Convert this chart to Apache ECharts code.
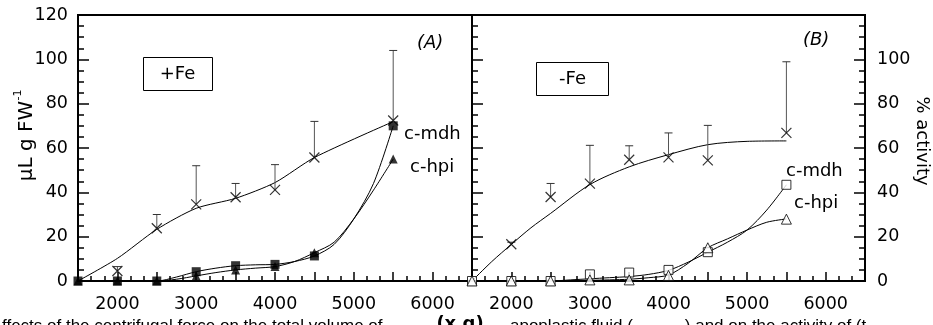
<!DOCTYPE html>
<html>
<head>
<meta charset="utf-8">
<script src="https://cdn.jsdelivr.net/npm/echarts@6/dist/echarts.min.js"></script>
<style>
  html, body { margin: 0; padding: 0; background: #fff; }
  #chart { width: 933px; height: 325px; }
</style>
</head>
<body>
<div id="chart"></div>
<script>
// x positions (x g)
const volX = [2000, 2500, 3000, 3500, 4000, 4500, 5500];
const enzX = [1500, 2000, 2500, 3000, 3500, 4000, 4500, 5500];
const curveX = [1500, 2000, 2500, 2750, 3000, 3250, 3500, 3750, 4000, 4250, 4500, 4750, 5000, 5250, 5500];
const xTickLabels = [2000, 3000, 4000, 5000, 6000];

// (A) +Fe
const volA = [4.5, 23.8, 34.6, 37.8, 41.1, 55.7, 72.4];
const volErrTopA = [6.5, 30, 52, 44, 52.5, 72, 104];
const volFitXA = [1500, 2000, 2500, 3000, 3500, 4000, 4500, 5500];
const volFitA = [0, 10.2, 23.3, 32.8, 37.3, 44.4, 55.7, 71.9];
const mdhA = [0, 0, 0, 4.2, 6.9, 7.5, 11.3, 70];
const hpiA = [0, 0, 0, 2.3, 5, 6.5, 12.8, 55];
const mdhCurveA = [0, 0, 0, 1.8, 4.2, 5.8, 6.9, 7.3, 7.5, 8.8, 11.3, 16.5, 28, 44, 70];
const hpiCurveA = [0, 0, 0, 0.8, 2.3, 3.8, 5, 5.8, 6.5, 8.8, 12.8, 17.5, 28, 41, 55];

// (B) -Fe
const volB = [16.6, 37.9, 43.9, 54.7, 55.8, 54.4, 66.8];
const volErrTopB = [17.5, 44, 61.2, 61, 66.8, 70.2, 98.9];
const volFitXB = [1500, 1750, 2000, 2250, 2500, 3000, 3500, 4000, 4500, 5000, 5500];
const volFitB = [0, 8.7, 16.5, 24, 30.5, 43.5, 51.5, 57, 61.5, 63, 63.2];
const mdhB = [0, 0, 0, 3, 3.8, 5, 13, 43.4];
const hpiB = [0, 0, 0, 0.5, 0.5, 2.5, 15, 27.9];
const mdhCurveB = [0, 0, 0, 0.5, 1, 1.5, 2, 3, 4.8, 8.5, 13, 17.5, 23, 32, 43.4];
const hpiCurveB = [0, 0, 0, 0.1, 0.3, 0.5, 0.8, 1.5, 2.7, 8, 15, 19, 23, 26.5, 28];

const FONT = 'DejaVu Sans';
const zip = (xs, ys) => xs.map((x, i) => [x, ys[i]]);
const zip3 = (xs, ys, zs) => xs.map((x, i) => [x, ys[i], zs[i]]);

const chart = echarts.init(document.getElementById('chart'));

function xAxisFor(gridIndex) {
  return {
    gridIndex: gridIndex,
    type: 'value',
    min: 1500,
    max: 6500,
    interval: 500,
    splitLine: { show: false },
    axisLine: { show: true, lineStyle: { color: '#000', width: 2 } },
    axisTick: { show: true, inside: true, length: 9, lineStyle: { color: '#000', width: 1.5 } },
    minorTick: { show: true, splitNumber: 3, length: 5, lineStyle: { color: '#000', width: 1.5 } },
    axisLabel: {
      margin: 14,
      fontFamily: FONT,
      fontSize: 17.5,
      color: '#000',
      showMinLabel: false,
      showMaxLabel: false,
      formatter: v => (xTickLabels.indexOf(v) >= 0 ? String(v) : '')
    }
  };
}

function yAxisFor(gridIndex, position, showLabels) {
  return {
    gridIndex: gridIndex,
    type: 'value',
    position: position,
    min: 0,
    max: 120,
    interval: 20,
    splitLine: { show: false },
    axisLine: { show: true, lineStyle: { color: '#000', width: 2 } },
    axisTick: { show: true, inside: true, length: 11, lineStyle: { color: '#000', width: 1.5 } },
    minorTick: { show: true, splitNumber: 4, length: 6, lineStyle: { color: '#000', width: 1.5 } },
    axisLabel: {
      show: showLabels,
      margin: position === 'left' ? 10 : 12,
      fontFamily: FONT,
      fontSize: 17.5,
      color: '#000',
      formatter: v => (position === 'right' && v === 120 ? '' : String(v))
    }
  };
}

function errorBars(xi, yi, data) {
  return {
    type: 'custom',
    xAxisIndex: xi,
    yAxisIndex: yi,
    clip: false,
    z: 3,
    data: data,
    renderItem: (params, api) => {
      const p = api.coord([api.value(0), api.value(1)]);
      const t = api.coord([api.value(0), api.value(2)]);
      return {
        type: 'group',
        children: [
          { type: 'line', shape: { x1: p[0], y1: p[1], x2: t[0], y2: t[1] }, style: { stroke: '#555', lineWidth: 1 } },
          { type: 'line', shape: { x1: t[0] - 4, y1: t[1], x2: t[0] + 4, y2: t[1] }, style: { stroke: '#333', lineWidth: 1 } }
        ]
      };
    }
  };
}

function curve(xi, yi, data, smooth) {
  return {
    type: 'line',
    xAxisIndex: xi,
    yAxisIndex: yi,
    data: data,
    smooth: smooth,
    showSymbol: false,
    clip: false,
    z: 2,
    lineStyle: { color: '#000', width: 1 }
  };
}

function markers(xi, yi, data, symbol, size, filled) {
  return {
    type: 'scatter',
    xAxisIndex: xi,
    yAxisIndex: yi,
    data: data,
    symbol: symbol,
    symbolSize: size,
    clip: false,
    z: 5,
    itemStyle: filled
      ? { color: '#000' }
      : { color: '#fff', borderColor: '#000', borderWidth: 1 }
  };
}

const crossSymbol = 'path://M0,0L10,10M10,0L0,10';
function crosses(xi, yi, data) {
  return {
    type: 'scatter',
    xAxisIndex: xi,
    yAxisIndex: yi,
    data: data,
    symbol: crossSymbol,
    symbolSize: 10,
    clip: false,
    z: 5,
    itemStyle: { color: 'transparent', borderColor: '#000', borderWidth: 1.2 }
  };
}

function label(text, x, y, opts) {
  return Object.assign({
    type: 'text',
    x: x,
    y: y,
    z: 10,
    style: {
      text: text,
      fontFamily: FONT,
      fontSize: 18,
      fill: '#000',
      align: 'left',
      verticalAlign: 'middle'
    }
  }, opts || {});
}

const option = {
  animation: false,
  backgroundColor: '#fff',
  grid: [
    { left: 78, top: 15, width: 394, height: 266, show: true, borderColor: '#000', borderWidth: 2, backgroundColor: 'transparent' },
    { left: 472, top: 15, width: 393, height: 266, show: true, borderColor: '#000', borderWidth: 2, backgroundColor: 'transparent' }
  ],
  xAxis: [xAxisFor(0), xAxisFor(1)],
  yAxis: [
    yAxisFor(0, 'left', true),
    yAxisFor(1, 'left', false),
    yAxisFor(1, 'right', true)
  ],
  series: [
    // (A)
    curve(0, 0, zip(volFitXA, volFitA), 0.25),
    errorBars(0, 0, zip3(volX, volA, volErrTopA)),
    crosses(0, 0, zip(volX, volA)),
    curve(0, 0, zip(curveX, mdhCurveA), 0.3),
    curve(0, 0, zip(curveX, hpiCurveA), 0.3),
    markers(0, 0, zip(enzX, mdhA), 'rect', 9, true),
    markers(0, 0, zip(enzX, hpiA), 'triangle', 9, true),
    // (B)
    curve(1, 1, zip(volFitXB, volFitB), 0.3),
    errorBars(1, 1, zip3(volX, volB, volErrTopB)),
    crosses(1, 1, zip(volX, volB)),
    curve(1, 1, zip(curveX, mdhCurveB), 0.3),
    curve(1, 1, zip(curveX, hpiCurveB), 0.3),
    markers(1, 1, zip(enzX, mdhB), 'rect', 9, false),
    markers(1, 1, zip(enzX, hpiB), 'triangle', 10, false)
  ],
  graphic: [
    // condition boxes
    { type: 'rect', shape: { x: 143.5, y: 57.5, width: 69, height: 33 }, style: { fill: '#fff', stroke: '#000', lineWidth: 1 }, z: 9 },
    label('+Fe', 177.5, 74.5, { style: { text: '+Fe', fontFamily: FONT, fontSize: 18, fill: '#000', align: 'center', verticalAlign: 'middle' } }),
    { type: 'rect', shape: { x: 536.5, y: 62.5, width: 72, height: 33 }, style: { fill: '#fff', stroke: '#000', lineWidth: 1 }, z: 9 },
    label('-Fe', 572.5, 79, { style: { text: '-Fe', fontFamily: FONT, fontSize: 18, fill: '#000', align: 'center', verticalAlign: 'middle' } }),
    // panel tags
    label('(A)', 417, 43, { style: { text: '(A)', fontFamily: FONT, fontStyle: 'italic', fontSize: 18, fill: '#000', align: 'left', verticalAlign: 'middle' } }),
    label('(B)', 803, 40, { style: { text: '(B)', fontFamily: FONT, fontStyle: 'italic', fontSize: 18, fill: '#000', align: 'left', verticalAlign: 'middle' } }),
    // curve labels
    label('c-mdh', 404, 134),
    label('c-hpi', 410, 167),
    label('c-mdh', 786, 171),
    label('c-hpi', 794, 203),
    // axis titles
    label('μL g FW', 27, 141, { rotation: Math.PI / 2, style: { text: 'μL g FW', fontFamily: FONT, fontSize: 20, fill: '#000', align: 'center', verticalAlign: 'middle' } }),
    label('-1', 18, 95, { rotation: Math.PI / 2, style: { text: '-1', fontFamily: FONT, fontSize: 11, fill: '#000', align: 'center', verticalAlign: 'middle' } }),
    label('% activity', 922, 141, { rotation: -Math.PI / 2, style: { text: '% activity', fontFamily: FONT, fontSize: 18, fill: '#000', align: 'center', verticalAlign: 'middle' } }),
    label('(x g)', 460, 315, { style: { text: '(x g)', fontFamily: FONT, fontWeight: 'bold', fontSize: 18, fill: '#000', align: 'center', verticalAlign: 'top' } }),
    // caption line cut by the frame
    label('ffects of the centrifugal force on the total volume of', 2, 318, { style: { text: 'ffects of the centrifugal force on the total volume of', fontFamily: 'Liberation Sans', fontSize: 17, fill: '#000', align: 'left', verticalAlign: 'top' } }),
    label('apoplastic fluid (           ) and on the activity of (t', 510, 318, { style: { text: 'apoplastic fluid (           ) and on the activity of (t', fontFamily: 'Liberation Sans', fontSize: 17, fill: '#000', align: 'left', verticalAlign: 'top' } })
  ]
};

chart.setOption(option);
</script>
</body>
</html>
